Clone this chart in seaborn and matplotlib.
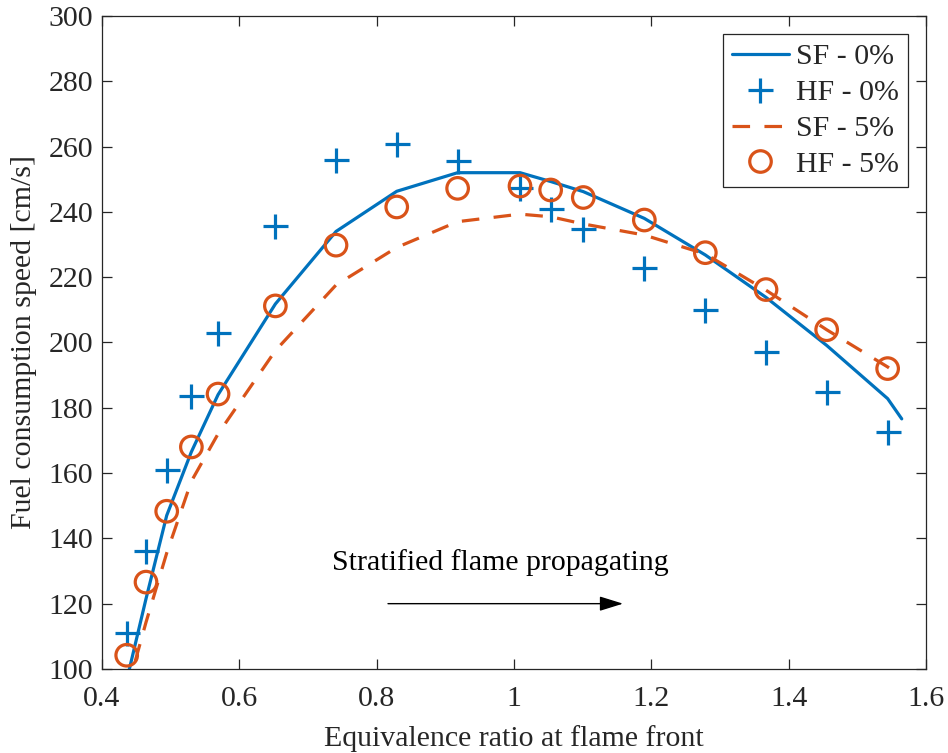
import numpy as np
import pandas as pd
import matplotlib
matplotlib.use("Agg")
import matplotlib.pyplot as plt
from matplotlib.lines import Line2D
import seaborn as sns

# Equivalence ratio at which the hydrogen-flame (HF) samples were taken
phi_hf = [0.4366, 0.4647, 0.4948, 0.5307, 0.5695, 0.6529, 0.7411, 0.8294, 0.9180,
          1.0087, 1.0533, 1.1008, 1.1896, 1.2783, 1.3666, 1.4548, 1.5435]
hf_0 = [111.1, 136.0, 161.0, 183.7, 202.9, 235.8, 256.0, 260.8, 255.7,
        247.2, 240.8, 234.9, 222.7, 209.9, 197.1, 184.8, 172.5]
hf_5 = [104.2, 126.6, 148.3, 168.0, 184.2, 211.2, 229.8, 241.5, 247.2,
        247.9, 246.7, 244.4, 237.5, 227.5, 216.2, 203.9, 192.0]

# Stratified-flame (SF) curves
phi_sf0 = [0.4366, 0.4647, 0.4948, 0.5307, 0.5695, 0.6529, 0.7411, 0.8294, 0.9180,
           1.0087, 1.0533, 1.1008, 1.1896, 1.2783, 1.3666, 1.4548, 1.5435, 1.5640]
sf_0 = [96.5, 121.5, 147.0, 166.5, 184.0, 211.8, 234.0, 246.3, 252.0,
        252.0, 249.3, 246.2, 238.0, 226.8, 213.8, 199.1, 182.8, 176.6]
phi_sf5 = [0.4366, 0.4647, 0.4948, 0.5307, 0.5695, 0.6529, 0.7411, 0.8294, 0.9180,
           1.0087, 1.0533, 1.1008, 1.1896, 1.2783, 1.3666, 1.4548, 1.5435, 1.5517]
sf_5 = [93.0, 114.3, 135.5, 157.5, 172.0, 197.5, 217.6, 229.1, 237.0,
        239.3, 238.5, 236.3, 232.9, 227.1, 216.0, 203.9, 192.5, 191.3]

labels = ["SF - 0%", "HF - 0%", "SF - 5%", "HF - 5%"]
x_ticks = [0.4, 0.6, 0.8, 1.0, 1.2, 1.4, 1.6]
x_tick_labels = ["0.4", "0.6", "0.8", "1", "1.2", "1.4", "1.6"]
y_ticks = [100, 120, 140, 160, 180, 200, 220, 240, 260, 280, 300]

BLUE = "#0072BD"
ORANGE = "#D95319"
AX_COLOR = "#262626"
FS = 21.5
DASH = (0, (5.5, 4.5))

sns.set_style("ticks")
plt.rcParams["font.family"] = ["Liberation Serif", "DejaVu Serif"]
plt.rcParams["mathtext.fontset"] = "stix"

fig = plt.figure(figsize=(9.48, 7.53), dpi=100)
ax = fig.add_axes([0.1071, 0.1116, 0.8702, 0.8672])

df_sf0 = pd.DataFrame({"phi": phi_sf0, "S": sf_0})
df_sf5 = pd.DataFrame({"phi": phi_sf5, "S": sf_5})
df_hf0 = pd.DataFrame({"phi": phi_hf, "S": hf_0})
df_hf5 = pd.DataFrame({"phi": phi_hf, "S": hf_5})

sns.lineplot(data=df_sf0, x="phi", y="S", ax=ax, color=BLUE, lw=2.3,
             sort=False, estimator=None, zorder=3)
sns.scatterplot(data=df_hf0, x="phi", y="S", ax=ax, marker="+", s=18 ** 2,
                color=BLUE, linewidth=2.3, zorder=4)
sns.lineplot(data=df_sf5, x="phi", y="S", ax=ax, color=ORANGE, lw=2.3,
             sort=False, estimator=None, zorder=3, linestyle=DASH)
sns.scatterplot(data=df_hf5, x="phi", y="S", ax=ax, marker="o", s=15.5 ** 2,
                facecolor="none", edgecolor=ORANGE, linewidth=2.3, zorder=5)

ax.set_xlim(0.4, 1.6)
ax.set_ylim(100, 300)
ax.set_xticks(x_ticks)
ax.set_xticklabels(x_tick_labels)
ax.set_yticks(y_ticks)

for side in ["left", "right", "top", "bottom"]:
    ax.spines[side].set_visible(True)
    ax.spines[side].set_color(AX_COLOR)
    ax.spines[side].set_linewidth(0.9)
ax.tick_params(axis="both", direction="in", length=7, width=0.9, color=AX_COLOR,
               labelcolor=AX_COLOR, labelsize=FS, top=True, right=True)
ax.tick_params(axis="x", pad=12.5)
ax.tick_params(axis="y", pad=6)

ax.set_xlabel("Equivalence ratio at flame front", fontsize=FS, color=AX_COLOR, labelpad=9)
ax.set_ylabel("Fuel consumption speed [cm/s]", fontsize=FS, color=AX_COLOR, labelpad=8)

ax.text(0.98, 132.6, "Stratified flame propagating", fontsize=FS, color="black",
        ha="center", va="center")
ax.annotate("", xy=(1.1586, 120.0), xytext=(0.8167, 120.0),
            arrowprops=dict(arrowstyle="-|>,head_length=1.45,head_width=0.45",
                            color="black", lw=1.0, shrinkA=0, shrinkB=0))

handles = [
    Line2D([], [], color=BLUE, lw=2.3),
    Line2D([], [], color=BLUE, lw=0, marker="+", markersize=18, markeredgewidth=2.3),
    Line2D([], [], color=ORANGE, lw=2.3, linestyle=DASH),
    Line2D([], [], color=ORANGE, lw=0, marker="o", markersize=15.5,
           markerfacecolor="none", markeredgewidth=2.3),
]
leg = ax.legend(handles, labels, loc="upper right", fontsize=FS, frameon=True,
                fancybox=False, edgecolor=AX_COLOR, framealpha=1,
                handlelength=1.9, handletextpad=0.25, labelspacing=0.3,
                borderpad=0.3, borderaxespad=0.62)
leg.get_frame().set_linewidth(0.9)

fig.savefig("out.png", dpi=100)
